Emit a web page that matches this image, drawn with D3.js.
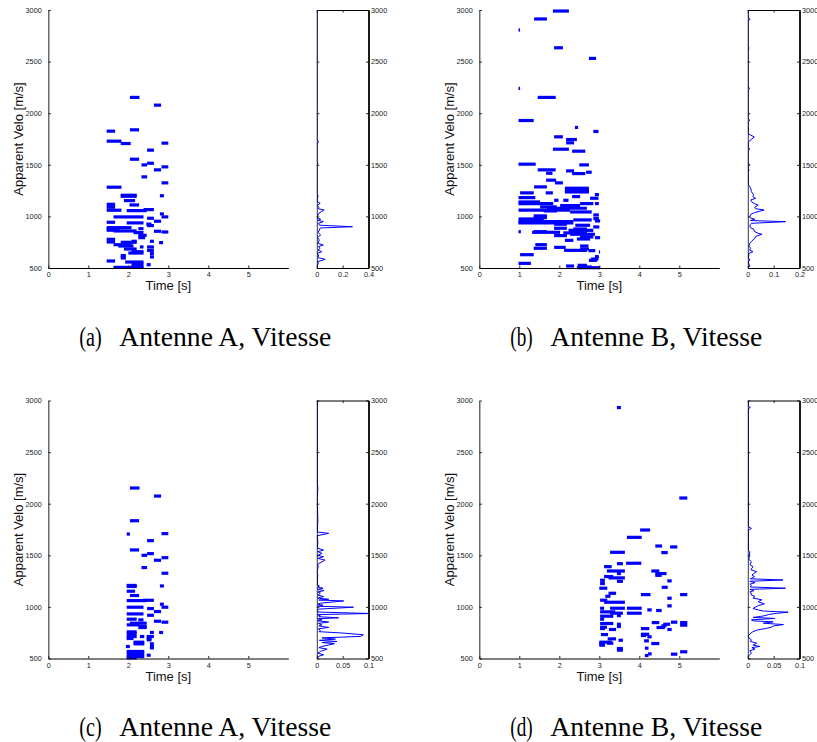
<!DOCTYPE html>
<html><head><meta charset="utf-8">
<script src="https://cdn.jsdelivr.net/npm/d3@7"></script>
<style>
html,body{margin:0;padding:0;background:#fff;}
svg{display:block;}
</style></head>
<body>
<svg id="chart" width="817" height="742"></svg>
<script>
// ---------- data ----------
const velocityTicks = [500, 1000, 1500, 2000, 2500, 3000];
const timeTicks = [0, 1, 2, 3, 4, 5];
const captionLetters = ["(a)", "(b)", "(c)", "(d)"];
const captionTexts = ["Antenne A, Vitesse", "Antenne B, Vitesse", "Antenne A, Vitesse", "Antenne B, Vitesse"];
const densityTicksA = [0, 0.2, 0.4];
const densityTicksB = [0, 0.1, 0.2];
const densityTicksC = [0, 0.05, 0.1];
const densityTicksD = [0, 0.05, 0.1];

// segments: [start time, end time, apparent velocity]
const segmentsA = [
[2.04,2.28,2153],[2.64,2.82,2078],[2.04,2.27,1839],[1.46,1.67,1826],[1.46,1.83,1729],[1.81,2.06,1706],
[2.83,3.0,1710],[2.47,2.64,1642],[2.04,2.27,1554],[2.47,2.64,1515],[2.33,2.47,1499],[2.83,3.0,1480],
[2.64,2.82,1451],[2.33,2.47,1383],[2.83,3.0,1325],[1.46,1.83,1283],[1.81,2.21,1205],[1.81,2.21,1195],
[2.79,2.89,1200],[1.89,2.17,1153],[1.46,1.67,1117],[2.03,2.27,1111],[1.46,1.67,1089],[1.46,1.83,1060],
[1.96,2.46,1056],[2.38,2.64,1066],[2.79,2.89,1024],[1.63,2.38,995],[2.83,3.0,995],[2.47,2.64,982],
[2.64,2.82,953],[1.46,1.67,943],[1.96,2.38,937],[2.45,2.58,925],[2.47,2.64,911],[1.46,2.08,891],
[1.46,1.75,878],[2.25,2.38,881],[1.46,1.79,866],[1.63,2.21,859],[2.64,2.82,856],[2.83,3.0,849],
[2.13,2.38,843],[2.25,2.46,817],[2.25,2.42,794],[1.46,1.67,778],[2.08,2.21,759],[2.54,2.64,759],
[1.46,1.67,752],[1.81,2.21,749],[2.77,2.87,746],[1.63,2.08,726],[1.75,2.13,713],[2.29,2.38,704],
[2.47,2.64,704],[1.89,2.21,684],[2.47,2.64,671],[2.08,2.38,658],[2.0,2.38,645],[2.54,2.64,639],
[1.81,1.94,620],[2.54,2.64,607],[1.81,1.94,597],[1.46,1.67,568],[1.92,2.38,558],[2.08,2.38,542],
[2.46,2.56,532],[2.08,2.38,516],[1.63,2.38,506]
];
const segmentsB = [
[1.84,2.24,2990],[1.37,1.69,2913],[0.98,1.02,2806],[1.87,2.09,2634],[2.74,2.92,2531],[0.98,1.02,2240],
[1.46,1.91,2153],[0.98,1.36,1929],[2.39,2.47,1862],[2.85,2.98,1823],[1.87,2.09,1771],[2.17,2.44,1745],
[2.17,2.37,1713],[1.84,2.24,1651],[2.32,2.65,1632],[0.98,1.41,1506],[2.5,2.74,1499],[1.46,1.91,1451],
[2.17,2.37,1441],[2.67,2.81,1428],[1.67,1.83,1418],[2.32,2.65,1415],[1.67,1.92,1351],[1.89,2.09,1325],
[1.37,1.69,1286],[2.14,2.74,1273],[2.14,2.74,1254],[2.14,2.74,1237],[1.66,1.84,1228],[1.02,1.36,1228],
[2.89,2.99,1211],[2.32,2.52,1192],[0.98,1.40,1182],[2.77,2.98,1176],[1.87,1.98,1156],[2.1,2.23,1156],
[0.98,1.52,1140],[0.98,1.85,1124],[2.52,2.85,1124],[2.89,2.99,1124],[2.02,2.52,1105],[1.52,1.94,1092],
[1.69,2.69,1079],[0.98,2.27,1060],[1.61,1.94,1053],[2.27,2.81,1043],[2.85,2.99,1014],[1.36,1.69,1005],
[1.36,1.69,988],[2.85,2.99,979],[0.98,1.61,975],[2.35,2.81,966],[2.89,3.02,956],[0.98,2.35,950],
[0.98,2.35,937],[1.87,2.19,924],[2.4,2.77,914],[2.85,3.0,898],[1.87,2.19,885],[2.35,2.69,878],
[2.23,2.85,865],[1.36,1.69,852],[1.32,2.02,846],[0.98,1.04,852],[2.1,2.69,840],[2.27,2.89,827],
[1.87,2.19,814],[2.52,2.85,801],[2.89,3.02,794],[2.44,2.77,781],[2.14,2.35,768],[1.4,1.69,726],
[2.52,2.73,713],[1.87,2.16,700],[1.36,1.69,691],[2.52,2.74,684],[2.12,2.69,671],[2.73,2.9,668],
[2.99,3.02,655],[1.02,1.36,629],[2.89,2.99,610],[2.79,2.98,587],[2.74,2.94,574],[0.98,1.29,545],
[2.17,2.37,519],[2.46,2.69,526],[2.52,2.81,510],[2.44,3.02,503]
];
const segmentsC = [
[2.04,2.28,2152],[2.64,2.82,2074],[2.04,2.27,1835],[1.96,2.04,1706],[2.83,3.0,1710],[2.47,2.64,1642],
[2.04,2.27,1552],[2.47,2.64,1516],[2.33,2.47,1500],[2.83,3.0,1477],[2.64,2.82,1452],[2.33,2.47,1381],
[2.83,3.0,1326],[1.96,2.21,1208],[1.96,2.21,1198],[2.79,2.89,1203],[1.96,2.17,1152],[2.04,2.27,1110],
[1.96,2.46,1061],[2.36,2.64,1064],[2.79,2.89,1026],[1.96,2.38,997],[2.83,3.0,997],[2.47,2.64,984],
[2.64,2.82,955],[1.96,2.38,932],[2.47,2.64,919],[1.96,2.21,881],[2.25,2.38,874],[2.64,2.82,861],
[2.83,3.0,852],[2.04,2.46,842],[1.96,2.29,826],[2.29,2.46,810],[2.25,2.46,800],[1.96,2.21,758],
[2.54,2.64,752],[2.77,2.87,752],[1.96,2.21,739],[1.96,2.21,713],[2.29,2.4,713],[2.46,2.64,713],
[1.96,2.13,694],[2.46,2.58,694],[2.46,2.58,681],[2.13,2.4,658],[2.13,2.4,642],[2.54,2.64,642],
[1.94,2.04,616],[2.54,2.64,616],[2.54,2.64,603],[1.96,2.4,568],[1.96,2.4,545],[2.46,2.56,532],
[1.96,2.4,519],[1.96,2.21,506]
];
const segmentsD = [
[3.44,3.54,2932],[5.0,5.2,2055],[4.02,4.27,1745],[3.69,4.06,1674],[4.4,4.57,1590],[4.77,4.95,1581],
[4.55,4.71,1526],[3.27,3.64,1529],[3.44,3.59,1419],[3.67,4.05,1423],[3.12,3.31,1390],[3.19,3.64,1348],
[4.3,4.5,1348],[3.44,3.54,1323],[4.4,4.68,1323],[4.4,4.56,1306],[3.12,3.35,1294],[3.23,3.64,1281],
[3.02,3.14,1258],[3.44,3.59,1248],[4.7,4.81,1252],[3.02,3.14,1226],[4.56,4.71,1190],[3.0,3.2,1181],
[3.23,3.42,1132],[4.04,4.28,1119],[5.02,5.2,1119],[3.15,3.28,1103],[4.7,4.81,1084],[3.02,3.2,1065],
[3.12,3.64,1045],[4.7,4.81,1010],[3.27,3.64,987],[3.69,4.06,987],[3.02,3.12,987],[4.2,4.31,971],
[4.42,4.56,965],[3.02,3.4,952],[3.69,4.06,939],[3.27,3.59,939],[3.02,3.35,910],[3.44,3.54,916],
[3.02,3.12,881],[4.31,4.5,848],[4.79,4.95,852],[5.02,5.2,848],[3.02,3.23,839],[3.19,3.35,839],
[3.44,3.54,832],[5.02,5.2,823],[4.6,4.77,832],[4.55,4.68,816],[3.44,3.54,810],[3.02,3.19,803],
[4.43,4.64,800],[3.02,3.14,790],[3.24,3.42,781],[4.7,4.81,781],[4.04,4.25,790],[4.04,4.25,735],
[4.04,4.17,723],[3.04,3.22,732],[4.2,4.31,710],[3.21,3.42,690],[3.48,3.59,677],[4.12,4.24,671],
[3.0,3.32,658],[3.0,3.14,645],[3.0,3.14,629],[3.19,3.35,648],[4.3,4.5,645],[4.14,4.23,600],
[3.44,3.59,597],[3.44,3.59,581],[5.02,5.2,565],[4.22,4.31,545],[4.79,4.95,542],[4.14,4.23,529]
];

// velocity distribution: [apparent velocity, proportion]
const distributionA = [
[500,0.003],[527,0.005],[545,0.012],[561,0.006],[584,0.065],[600,0.01],[626,0.013],[642,0.004],[658,0.038],
[675,0.01],[691,0.026],[707,0.012],[723,0.05],[740,0.008],[771,0.02],[795,0.006],[820,0.03],[845,0.01],
[868,0.02],[888,0.026],[900,0.276],[915,0.02],[933,0.013],[949,0.05],[962,0.01],[972,0.03],[985,0.004],
[1000,0.005],[1015,0.01],[1030,0.015],[1062,0.057],[1075,0.01],[1088,0.016],[1105,0.004],[1127,0.026],
[1145,0.003],[1165,0.002],[1198,0.01],[1220,0.001],[1300,0.002],[1400,0.002],[1500,0.001],[1514,0.008],
[1530,0.001],[1600,0.001],[1700,0.001],[1724,0.013],[1745,0.001],[1850,0.002],[2000,0.001],[2150,0.002],
[2500,0.001],[3000,0.002]
];
const distributionB = [
[500,0.001],[520,0.008],[539,0.004],[560,0.002],[578,0.008],[600,0.002],[626,0.004],[640,0.003],[658,0.02],
[675,0.006],[691,0.012],[710,0.004],[739,0.008],[760,0.015],[787,0.027],[805,0.03],[827,0.055],[836,0.04],
[855,0.025],[875,0.024],[890,0.01],[907,0.008],[920,0.01],[933,0.014],[949,0.146],[960,0.01],[972,0.027],
[985,0.01],[1000,0.008],[1020,0.012],[1036,0.025],[1062,0.063],[1075,0.03],[1088,0.027],[1110,0.04],
[1125,0.025],[1142,0.014],[1160,0.012],[1175,0.03],[1191,0.02],[1210,0.022],[1240,0.014],[1265,0.012],
[1288,0.008],[1310,0.002],[1350,0.002],[1440,0.001],[1448,0.006],[1458,0.001],[1498,0.002],[1505,0.007],
[1512,0.001],[1640,0.001],[1652,0.008],[1665,0.001],[1720,0.002],[1770,0.025],[1800,0.002],[1920,0.001],
[1932,0.008],[1945,0.001],[2228,0.001],[2240,0.008],[2252,0.001],[2600,0.001],[2634,0.004],[2650,0.001],
[2895,0.001],[2910,0.009],[2925,0.001],[3000,0.001]
];
const distributionC = [
[500,0.002],[520,0.003],[536,0.013],[552,0.002],[569,0.007],[591,0.02],[605,0.004],[617,0.01],[643,0.034],
[655,0.01],[665,0.039],[676,0.005],[688,0.036],[700,0.01],[714,0.084],[730,0.09],[746,0.052],[760,0.004],
[772,0.007],[787,0.003],[801,0.023],[815,0.004],[827,0.01],[840,0.003],[853,0.023],[865,0.002],[875,0.01],
[885,0.002],[894,0.042],[905,0.004],[913,0.007],[925,0.001],[936,0.105],[950,0.001],[962,0.003],[970,0.001],
[978,0.003],[997,0.071],[1006,0.002],[1016,0.012],[1026,0.002],[1036,0.007],[1058,0.052],[1066,0.004],
[1074,0.023],[1085,0.002],[1101,0.013],[1115,0.002],[1133,0.007],[1145,0.002],[1158,0.014],[1170,0.002],
[1181,0.012],[1192,0.002],[1203,0.005],[1215,0.001],[1280,0.001],[1300,0.002],[1332,0.001],[1360,0.001],
[1390,0.003],[1410,0.001],[1454,0.016],[1470,0.002],[1486,0.013],[1500,0.002],[1519,0.01],[1535,0.002],
[1551,0.013],[1570,0.001],[1632,0.002],[1690,0.001],[1713,0.023],[1725,0.001],[1841,0.002],[2000,0.001],
[2070,0.001],[2150,0.002],[2200,0.001],[3000,0.001]
];
const distributionD = [
[500,0.001],[526,0.002],[552,0.007],[575,0.004],[591,0.014],[605,0.008],[617,0.023],[630,0.01],[649,0.017],
[665,0.005],[681,0.007],[700,0.002],[720,0.001],[746,0.006],[760,0.01],[778,0.02],[791,0.035],[804,0.046],
[816,0.05],[829,0.069],[842,0.03],[855,0.049],[865,0.01],[875,0.007],[888,0.052],[898,0.01],[907,0.024],
[917,0.035],[926,0.04],[937,0.055],[949,0.078],[960,0.03],[971,0.02],[985,0.01],[997,0.014],[1012,0.02],
[1030,0.032],[1050,0.02],[1069,0.027],[1085,0.01],[1101,0.014],[1118,0.006],[1133,0.007],[1145,0.004],
[1158,0.012],[1170,0.004],[1181,0.073],[1193,0.005],[1206,0.007],[1220,0.004],[1235,0.014],[1248,0.004],
[1261,0.068],[1272,0.005],[1293,0.013],[1310,0.008],[1341,0.017],[1360,0.006],[1390,0.01],[1410,0.004],
[1438,0.007],[1460,0.002],[1535,0.004],[1550,0.001],[1745,0.001],[1761,0.007],[1775,0.001],[2050,0.001],
[2300,0.001],[2920,0.001],[2932,0.005],[2945,0.001],[3000,0.001]
];

// ---------- layout ----------
const svg = d3.select("#chart");
const panels = [
  {segments: segmentsA, dist: distributionA, dTicks: densityTicksA, dMax: 0.4, left: 48.3, top: 10, capY: 345.7},
  {segments: segmentsB, dist: distributionB, dTicks: densityTicksB, dMax: 0.2, left: 479.3, top: 10, capY: 345.7},
  {segments: segmentsC, dist: distributionC, dTicks: densityTicksC, dMax: 0.1, left: 48.3, top: 400.5, capY: 736.2},
  {segments: segmentsD, dist: distributionD, dTicks: densityTicksD, dMax: 0.1, left: 479.3, top: 400.5, capY: 736.2}
];
const mainW = 240, plotH = 258, sideGap = 28.5, sideW = 51.7;
const tickFont = "Liberation Sans, Arial, sans-serif";
const capFont = "Liberation Serif, Times New Roman, serif";
const fmt = d => String(d);

panels.forEach((p, i) => {
  const g = svg.append("g");
  const y = d3.scaleLinear().domain([500, 3000]).range([p.top + plotH, p.top]);
  const x = d3.scaleLinear().domain([0, 6]).range([p.left, p.left + mainW]);

  // segments
  g.append("g").selectAll("line").data(p.segments).join("line")
    .attr("x1", d => x(d[0])).attr("x2", d => x(d[1]))
    .attr("y1", d => y(d[2])).attr("y2", d => y(d[2]))
    .attr("stroke", "#0000ff").attr("stroke-width", 3.2);

  // main axes
  const yAx = g.append("g").attr("transform", `translate(${p.left},0)`)
    .call(d3.axisLeft(y).tickValues(velocityTicks).tickFormat(fmt).tickSizeInner(-2.5).tickSizeOuter(0).tickPadding(6.5));
  const xAx = g.append("g").attr("transform", `translate(0,${p.top + plotH})`)
    .call(d3.axisBottom(x).tickValues(timeTicks).tickFormat(fmt).tickSizeInner(-2.5).tickSizeOuter(0).tickPadding(4));
  yAx.select(".domain").attr("stroke", "#444").attr("stroke-width", 1.2);
  xAx.select(".domain").attr("stroke", "#000").attr("stroke-width", 1.2);
  [yAx, xAx].forEach(a => {
    a.selectAll(".tick line").attr("stroke", "#222");
    a.selectAll("text").attr("font-family", tickFont).attr("font-size", 7.3).attr("fill", "#222");
  });

  g.append("text").attr("x", x(3)).attr("y", p.top + plotH + 22)
    .attr("text-anchor", "middle").attr("font-family", tickFont).attr("font-size", 13)
    .attr("fill", "#111").text("Time [s]");
  g.append("text").attr("transform", `translate(${p.left - 25},${p.top + 129}) rotate(-90)`)
    .attr("text-anchor", "middle").attr("font-family", tickFont).attr("font-size", 13)
    .attr("fill", "#111").text("Apparent Velo [m/s]");

  // side distribution plot
  const sx0 = p.left + mainW + sideGap;
  const sx = d3.scaleLinear().domain([0, p.dMax]).range([sx0, sx0 + sideW]);
  const clipId = "clip" + i;
  svg.append("clipPath").attr("id", clipId).append("rect")
    .attr("x", sx0).attr("y", p.top).attr("width", sideW).attr("height", plotH);
  g.append("path").datum(p.dist)
    .attr("clip-path", `url(#${clipId})`)
    .attr("d", d3.line().x(d => sx(d[1])).y(d => y(d[0])))
    .attr("fill", "none").attr("stroke", "#0000ff").attr("stroke-width", 1);

  const sR = g.append("g").attr("transform", `translate(${sx0 + sideW},0)`)
    .call(d3.axisRight(y).tickValues(velocityTicks).tickFormat(fmt).tickSizeInner(-2.5).tickSizeOuter(0).tickPadding(2.5));
  const sL = g.append("g").attr("transform", `translate(${sx0},0)`)
    .call(d3.axisLeft(y).tickValues(velocityTicks).tickSizeInner(-2.5).tickSizeOuter(0).tickFormat(""));
  const sB = g.append("g").attr("transform", `translate(0,${p.top + plotH})`)
    .call(d3.axisBottom(sx).tickValues(p.dTicks).tickFormat(fmt).tickSizeInner(-2.5).tickSizeOuter(0).tickPadding(4));
  const sT = g.append("g").attr("transform", `translate(0,${p.top})`)
    .call(d3.axisTop(sx).tickValues(p.dTicks).tickSizeInner(-2.5).tickSizeOuter(0).tickFormat(""));
  [sR, sL, sB, sT].forEach(a => {
    a.select(".domain").attr("stroke", "#000").attr("stroke-width", 1.2);
    a.selectAll(".tick line").attr("stroke", "#222");
    a.selectAll("text").attr("font-family", tickFont).attr("font-size", 7.3).attr("fill", "#222");
  });
  sR.select(".domain").attr("stroke-width", 1.8);
  sL.select(".domain").attr("stroke-width", 0.8);

  // caption
  const capLeft = p.left + 31;
  svg.append("text").attr("x", capLeft).attr("y", p.capY)
    .attr("font-family", capFont).attr("font-size", 26.5)
    .attr("fill", "#000").attr("textLength", 22.4).attr("lengthAdjust", "spacingAndGlyphs")
    .text(captionLetters[i]);
  svg.append("text").attr("x", capLeft + 40).attr("y", p.capY)
    .attr("font-family", capFont).attr("font-size", 26.5)
    .attr("fill", "#000").attr("textLength", 212).attr("lengthAdjust", "spacingAndGlyphs")
    .text(captionTexts[i]);
});
</script>
</body></html>
